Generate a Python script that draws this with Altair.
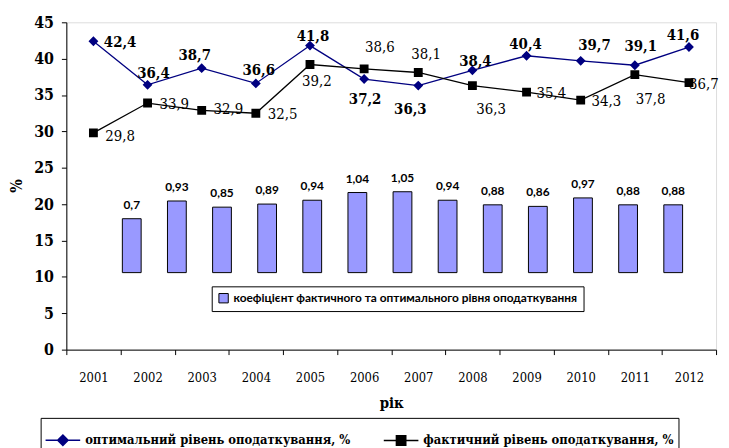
import altair as alt
import pandas as pd

years = ["2001", "2002", "2003", "2004", "2005", "2006", "2007", "2008", "2009", "2010", "2011", "2012"]
optimal = [42.4, 36.4, 38.7, 36.6, 41.8, 37.2, 36.3, 38.4, 40.4, 39.7, 39.1, 41.6]
actual = [29.8, 33.9, 32.9, 32.5, 39.2, 38.6, 38.1, 36.3, 35.4, 34.3, 37.8, 36.7]
coef = [0.7, 0.93, 0.85, 0.89, 0.94, 1.04, 1.05, 0.94, 0.88, 0.86, 0.97, 0.88, 0.88]

name_opt = "оптимальний рівень оподаткування, %"
name_act = "фактичний рівень оподаткування, %"
name_coef = "коефіцієнт фактичного та оптимального рівня оподаткування"

# label placement offsets (pixels) for value labels
opt_dx = [27, 6, -7, 3, 3, 1, -8, 3, -1, 14, 6, -6]
opt_dy = [1, -12, -13, -13, -10, 20, 24, -9, -12, -16, -19, -12]
act_dx = [27, 27, 27, 27, 7, 16, 8, 19, 25, 26, 16, 15]
act_dy = [3, 1, -1, 1, 17, -22, -19, 24, 1, 1, 25, 1]

W, H = 657, 331
NAVY = "#000080"
SERIF = "DejaVu Serif Condensed"

lines_df = pd.DataFrame({
    "year": years * 2,
    "value": optimal + actual,
    "series": [name_opt] * len(years) + [name_act] * len(years),
})
lines_df["label"] = lines_df["value"].map(lambda v: f"{v:.1f}".replace(".", ","))

bars_df = pd.DataFrame({"idx": list(range(len(coef))), "coef": coef, "leg": name_coef})
bars_df["label"] = bars_df["coef"].map(lambda v: str(v).replace(".", ","))

xenc = alt.X("year:O", scale=alt.Scale(type="band", paddingInner=0, paddingOuter=0),
             axis=alt.Axis(orient="bottom", title="рік", labelAngle=0, tickBand="extent",
                           labelFont=SERIF, labelFontSize=13, labelColor="black",
                           labelPadding=17, tickColor="black", tickSize=5, domainColor="black",
                           titleFont=SERIF, titleFontSize=15, titleFontWeight="bold",
                           titleY=54, titleBaseline="middle", titleColor="black"),
             bandPosition=0.5)
yenc = alt.Y("value:Q", scale=alt.Scale(domain=[0, 45], nice=False),
             axis=alt.Axis(orient="left", title="%", values=list(range(0, 46, 5)), grid=False,
                           labelFont=SERIF, labelFontSize=16, labelFontWeight="bold",
                           labelColor="black", labelPadding=8, tickColor="black", tickSize=5,
                           domainColor="black", titleFont=SERIF, titleFontSize=16,
                           titleFontWeight="bold", titleAngle=270, titleX=-50, titleY=165,
                           titleBaseline="middle", titleColor="black"))

series_dom = [name_opt, name_act]
diamond_path = "M-1,0H1M0,-0.3L0.3,0L0,0.3L-0.3,0Z"
square_path = "M-1,0H1M-0.27,-0.27H0.27V0.27H-0.27Z"

line_opt = alt.Chart(lines_df[lines_df.series == name_opt]).mark_line(strokeWidth=1.3, color=NAVY).encode(x=xenc, y=yenc)
line_act = alt.Chart(lines_df[lines_df.series == name_act]).mark_line(strokeWidth=1.3, color="black").encode(x=xenc, y=yenc)

series_legend = alt.Legend(title=None, orient="none", legendX=-26, legendY=400,
                           direction="horizontal", strokeColor="black", padding=4,
                           labelFont=SERIF, labelFontSize=13,
                           labelFontWeight="bold", labelColor="black",
                           symbolSize=1225, symbolStrokeWidth=1.5, columnPadding=30,
                           labelLimit=400, symbolOpacity=1)

points = alt.Chart(lines_df).mark_point(filled=True, opacity=1, size=1100, strokeWidth=0).encode(
    x=xenc, y=yenc,
    color=alt.Color("series:N", scale=alt.Scale(domain=series_dom, range=[NAVY, "black"]), legend=series_legend),
    stroke=alt.Stroke("series:N", scale=alt.Scale(domain=series_dom, range=[NAVY, "black"]), legend=series_legend),
    shape=alt.Shape("series:N", scale=alt.Scale(domain=series_dom, range=[diamond_path, square_path]), legend=series_legend),
)

label_layers = []
for i, y in enumerate(years):
    label_layers.append(
        alt.Chart(lines_df[(lines_df.series == name_opt) & (lines_df.year == y)])
        .mark_text(font=SERIF, fontSize=15, fontWeight="bold", color="black",
                   dx=opt_dx[i], dy=opt_dy[i], align="center", baseline="middle")
        .encode(x=xenc, y=yenc, text="label:N")
    )
    label_layers.append(
        alt.Chart(lines_df[(lines_df.series == name_act) & (lines_df.year == y)])
        .mark_text(font=SERIF, fontSize=15, color="black",
                   dx=act_dx[i], dy=act_dy[i], align="center", baseline="middle")
        .encode(x=xenc, y=yenc, text="label:N")
    )

lines_layer = alt.layer(line_opt, line_act, points, *label_layers)

bx = alt.X("idx:Q", scale=alt.Scale(domain=[-1.34, 12.84], nice=False, zero=False), axis=None)
by = alt.Y("coef:Q", scale=alt.Scale(domain=[-1, 3.25], nice=False, zero=False), axis=None)
bars = alt.Chart(bars_df).mark_bar(size=19, stroke="black", strokeWidth=1, opacity=1).encode(
    x=bx, y=by, y2=alt.datum(0),
    color=alt.Color("leg:N", scale=alt.Scale(range=["#9999ff"]),
                    legend=alt.Legend(title=None, orient="none", legendX=147, legendY=267,
                                      strokeColor="black", padding=6, symbolType="square",
                                      symbolStrokeColor="black", symbolStrokeWidth=1,
                                      symbolSize=90, labelFont="Lato", labelFontSize=12,
                                      labelFontWeight="bold", labelColor="black", labelLimit=500)),
)
bar_labels = alt.Chart(bars_df).mark_text(font="Lato", fontSize=12, fontWeight="bold", color="black",
                                          dy=-14, baseline="middle").encode(x=bx, y=by, text="label:N")
bars_layer = alt.layer(bars, bar_labels)

chart = alt.layer(bars_layer, lines_layer).resolve_scale(
    x="independent", y="independent", color="independent", stroke="independent", shape="independent"
).properties(
    width=W, height=H,
    autosize=alt.AutoSizeParams(type="none"),
    padding={"left": 59, "top": 12, "right": 5, "bottom": 97},
).configure_view(stroke="#808080", strokeWidth=1).configure(background="white")

chart.save("out.html", embed_options={"renderer": "svg", "actions": False})
